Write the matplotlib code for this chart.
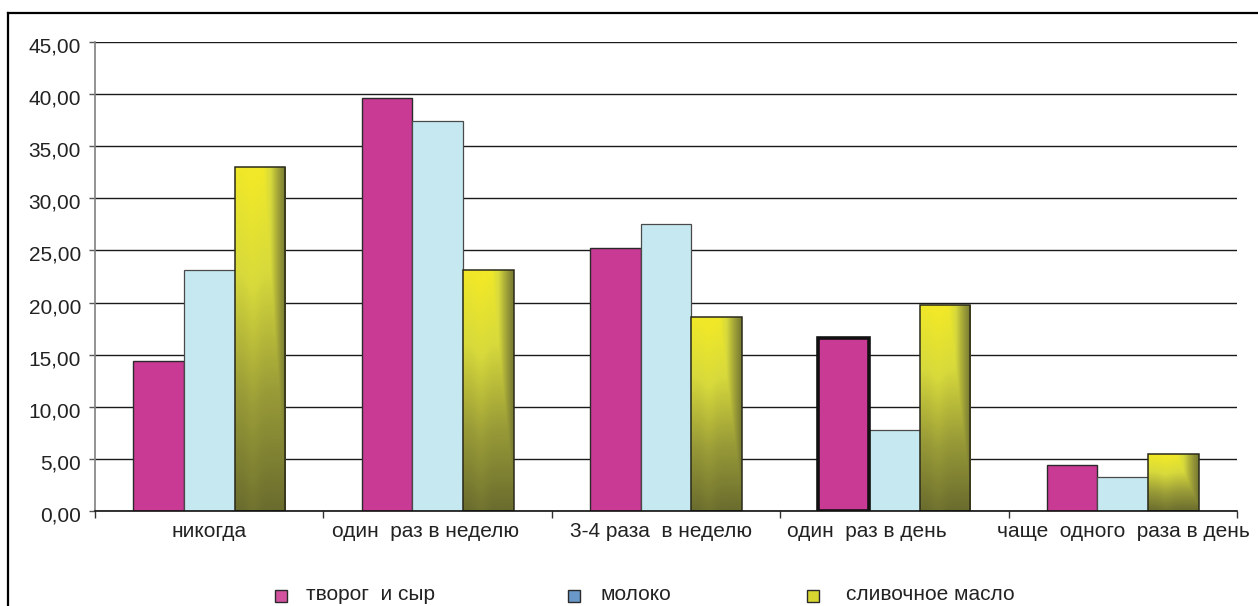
import numpy as np
import matplotlib
matplotlib.use("Agg")
import matplotlib.pyplot as plt
import matplotlib.transforms as mtransforms
from matplotlib.colors import LinearSegmentedColormap
from matplotlib.patches import Rectangle
from matplotlib.lines import Line2D

plt.rcParams['font.family'] = ['Liberation Sans', 'DejaVu Sans']

# --- data -------------------------------------------------------------
categories = ["никогда", "один  раз в неделю", "3-4 раза  в неделю",
              "один  раз в день", "чаще  одного  раза в день"]
series_names = ["творог  и сыр", "молоко", "сливочное масло"]
cottage_cheese = [14.37, 39.60, 25.24, 16.60, 4.41]
milk = [23.10, 37.46, 27.50, 7.75, 3.30]
butter = [33.04, 23.10, 18.60, 19.75, 5.44]
y_ticks = [0, 5, 10, 15, 20, 25, 30, 35, 40, 45]

# --- styling ----------------------------------------------------------
PINK = "#c83a94"
LIGHT_BLUE = "#c6e8f1"
YELLOW_TOP = "#f0e828"
OLIVE = "#6a6c2e"
FS = 15.0
label_shift_px = [0, -12, -5, -28, 1]

W, H = 1258, 606
fig = plt.figure(figsize=(W / 100, H / 100), dpi=100)
ax = fig.add_axes([95 / W, 95 / H, (1237 - 95) / W, (511 - 42) / H])

x = np.arange(len(categories))
bw = 0.222

b1 = ax.bar(x - bw, cottage_cheese, bw, color=PINK, edgecolor="#2a2a2a",
            linewidth=1.0, zorder=3)
b2 = ax.bar(x, milk, bw, color=LIGHT_BLUE, edgecolor="#4a4a4a",
            linewidth=0.9, zorder=3)
b3 = ax.bar(x + bw, butter, bw, facecolor="none", edgecolor="#2a2a1a",
            linewidth=1.1, zorder=4)
# highlighted bar
b1[3].set_linewidth(2.6)
b1[3].set_edgecolor("#111111")
b1[3].set_zorder(5)

# gradient fill for the butter bars: yellow top-left to olive bottom-right
cmap = LinearSegmentedColormap.from_list(
    "butter", [(0.0, YELLOW_TOP), (0.3, "#d8da3c"), (0.65, "#9a9c38"),
               (1.0, OLIVE)])
nu, nv = 60, 200
u = np.linspace(0, 1, nu)[None, :]
v = np.linspace(0, 1, nv)[:, None]
for rect in b3:
    x0, w, h = rect.get_x(), rect.get_width(), rect.get_height()
    ramp_u = np.clip((u - 0.55) / 0.45, 0, 1) * 0.9
    hl = -0.05 * np.exp(-((u - 0.35) / 0.15) ** 2)
    t = np.clip(np.maximum(v, ramp_u) + hl, 0, 1)
    im = ax.imshow(t, cmap=cmap, vmin=0, vmax=1, aspect="auto",
                   extent=[x0, x0 + w, 0, h], origin="upper",
                   interpolation="bilinear", zorder=3)
    im.set_clip_path(rect)

ax.set_xlim(-0.5, len(categories) - 0.5)
ax.set_ylim(0, 45)

# grid and axes
ax.set_yticks(y_ticks)
ax.set_yticklabels([f"{t:.2f}".replace(".", ",") for t in y_ticks])
ax.yaxis.grid(True, color="#1a1a1a", linewidth=1.0, zorder=1)
ax.set_axisbelow(True)
for s in ("top", "right"):
    ax.spines[s].set_visible(False)
ax.spines["left"].set_color("#808080")
ax.spines["left"].set_linewidth(1.2)
ax.spines["bottom"].set_color("#111111")
ax.spines["bottom"].set_linewidth(1.2)
ax.spines["bottom"].set_zorder(6)
ax.tick_params(axis="y", length=4, width=1, color="#555555", pad=6,
               labelsize=FS, labelcolor="#222222")
shift_down = mtransforms.ScaledTranslation(0, -3 / 100, fig.dpi_scale_trans)
for lbl in ax.get_yticklabels():
    lbl.set_transform(lbl.get_transform() + shift_down)

ax.set_xticks(np.arange(len(categories) + 1) - 0.5)
ax.set_xticklabels([])
ax.tick_params(axis="x", length=5, width=1, color="#333333")

for i, (lab, dx) in enumerate(zip(categories, label_shift_px)):
    tr = mtransforms.offset_copy(ax.get_xaxis_transform(), fig=fig,
                                 x=dx, y=-11, units="dots")
    ax.text(x[i], 0, lab, transform=tr, ha="center", va="top",
            fontsize=FS, color="#222222")

# legend
legend_colors = ["#d352a0", "#6a98c8", "#d8d630"]
marker_x = [275, 568, 807]
text_x = [306, 600, 846]
for name, col, mx, tx in zip(series_names, legend_colors, marker_x, text_x):
    fig.patches.append(Rectangle((mx / W, (606 - 602) / H), 12 / W, 12 / H,
                                 transform=fig.transFigure,
                                 facecolor=col, edgecolor="#2a2a2a",
                                 linewidth=1.0))
    fig.text(tx / W, (606 - 600) / H, name, ha="left", va="baseline",
             fontsize=FS, color="#222222")

# frame lines at top and left
fig.add_artist(Line2D([8 / W, 1.0], [1 - 13 / H, 1 - 13 / H],
                      transform=fig.transFigure, color="black", linewidth=1.6))
fig.add_artist(Line2D([8 / W, 8 / W], [0, 1 - 13 / H],
                      transform=fig.transFigure, color="black", linewidth=1.6))

fig.savefig("out.png", dpi=100, facecolor="white")
